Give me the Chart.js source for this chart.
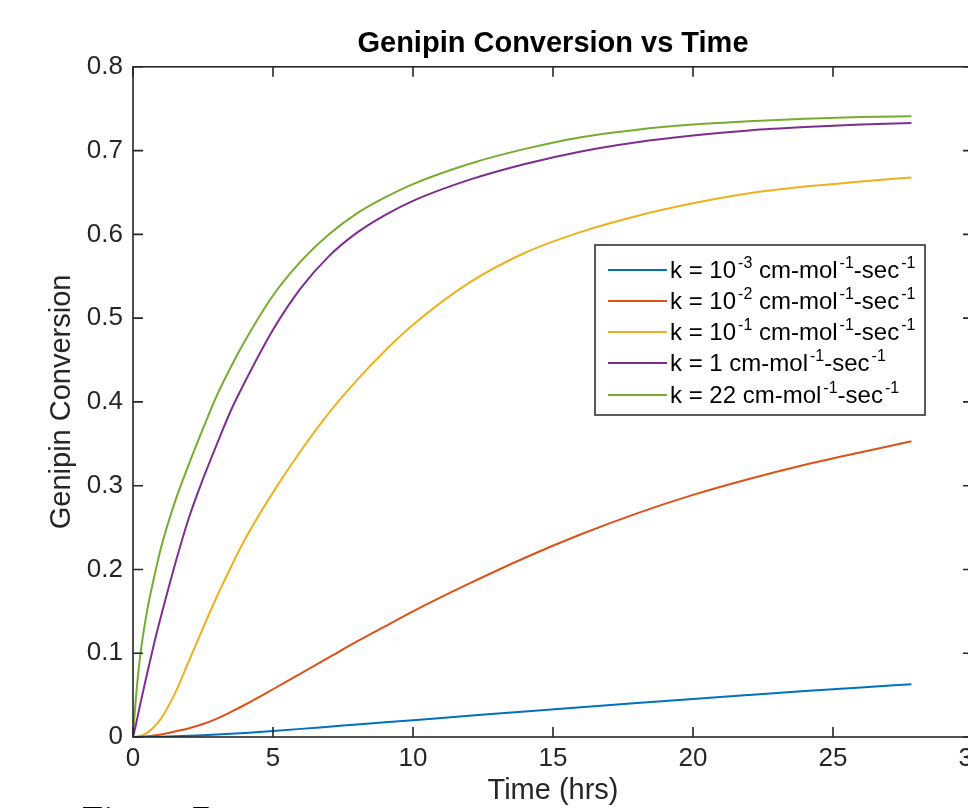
<!DOCTYPE html>
<html><head><meta charset="utf-8">
<script src="https://cdn.jsdelivr.net/npm/chart.js@4"></script>
<style>
html,body{margin:0;padding:0;background:#fff;overflow:hidden;}
#wrap{width:968px;height:808px;overflow:hidden;position:relative;background:#fff;}
canvas{display:block;}
</style></head><body>
<div id="wrap"><canvas id="c" width="1000" height="808" style="width:1000px;height:808px"></canvas></div>
<script>
// ---- data ----
const timeHrs  = [0,0.1,0.25,0.5,0.75,1,1.5,2,2.5,3,3.5,4,5,6,7,8,9,10,12,14,16,18,20,22,24,26,27.8];
const convK1e3 = [0,0,0.00002,0.0001,0.0002,0.0004,0.0009,0.0015,0.0022,0.003,0.0039,0.0049,0.0072,0.0097,0.0123,0.0149,0.0175,0.0201,0.0253,0.0305,0.0356,0.0406,0.0455,0.0502,0.0548,0.0592,0.0630];
const convK1e2 = [0,0,0.0002,0.0008,0.0017,0.003,0.0065,0.0105,0.0155,0.022,0.030,0.0385,0.057,0.076,0.095,0.114,0.132,0.150,0.183,0.214,0.242,0.267,0.289,0.308,0.325,0.340,0.353];
const convK1e1 = [0,0.0002,0.0012,0.005,0.012,0.022,0.052,0.091,0.130,0.168,0.203,0.236,0.292,0.342,0.387,0.426,0.461,0.492,0.542,0.578,0.603,0.622,0.637,0.649,0.657,0.663,0.668];
const convK1   = [0,0.014,0.038,0.075,0.111,0.144,0.206,0.262,0.308,0.350,0.390,0.424,0.486,0.536,0.574,0.602,0.623,0.640,0.665,0.684,0.699,0.710,0.718,0.724,0.728,0.731,0.733];
const convK22  = [0,0.045,0.095,0.150,0.190,0.226,0.281,0.326,0.368,0.408,0.442,0.473,0.527,0.568,0.600,0.625,0.644,0.660,0.684,0.702,0.716,0.725,0.731,0.735,0.738,0.740,0.741];
const seriesLabels = [
  'k = 10^{-3} cm-mol^{-1}-sec^{-1}',
  'k = 10^{-2} cm-mol^{-1}-sec^{-1}',
  'k = 10^{-1} cm-mol^{-1}-sec^{-1}',
  'k = 1 cm-mol^{-1}-sec^{-1}',
  'k = 22 cm-mol^{-1}-sec^{-1}'
];
const seriesColors = ['#0072BD','#D95319','#EDB120','#7E2F8E','#77AC30'];
const xTicks = [0,5,10,15,20,25,30];
const yTicks = [0,0.1,0.2,0.3,0.4,0.5,0.6,0.7,0.8];
const chartTitle = 'Genipin Conversion vs Time';
const xTitle = 'Time (hrs)';
const yTitle = 'Genipin Conversion';
const captionText = 'Figure 7';

const FONT = '"Liberation Sans", Arial, Helvetica, sans-serif';
const AXIS = '#262626';
const allSeries = [convK1e3, convK1e2, convK1e1, convK1, convK22];

const datasets = allSeries.map((vals, i) => ({
  label: seriesLabels[i].replace(/\^\{([^}]*)\}/g, '$1'),
  data: timeHrs.map((t, j) => ({x: t, y: vals[j]})),
  borderColor: seriesColors[i],
  backgroundColor: seriesColors[i],
  borderWidth: 2,
  pointRadius: 0,
  fill: false,
  cubicInterpolationMode: 'monotone'
}));

const boxPlugin = {
  id: 'matlabBox',
  afterDatasetsDraw(chart) {
    const {ctx, chartArea: a, scales: {x, y}} = chart;
    ctx.save();
    ctx.strokeStyle = AXIS;
    ctx.lineWidth = 1.6;
    ctx.strokeRect(a.left, a.top, a.right - a.left, a.bottom - a.top);
    const L = 10;
    ctx.beginPath();
    xTicks.forEach(v => {
      const px = x.getPixelForValue(v);
      ctx.moveTo(px, a.bottom); ctx.lineTo(px, a.bottom - L);
      ctx.moveTo(px, a.top); ctx.lineTo(px, a.top + L);
    });
    yTicks.forEach(v => {
      const py = y.getPixelForValue(v);
      ctx.moveTo(a.left, py); ctx.lineTo(a.left + L, py);
      ctx.moveTo(a.right, py); ctx.lineTo(a.right - L, py);
    });
    ctx.stroke();

    // legend
    const bx = 595, by = 245, bw = 330, bh = 170;
    ctx.fillStyle = '#fff';
    ctx.fillRect(bx, by, bw, bh);
    ctx.lineWidth = 1.5;
    ctx.strokeStyle = AXIS;
    ctx.strokeRect(bx, by, bw, bh);
    const rowY = [270, 301, 332, 363, 395];
    seriesLabels.forEach((lab, i) => {
      const cy = rowY[i];
      ctx.strokeStyle = seriesColors[i];
      ctx.lineWidth = 2;
      ctx.beginPath(); ctx.moveTo(608, cy); ctx.lineTo(667, cy); ctx.stroke();
      const parts = lab.split(/\^\{([^}]*)\}/);
      let tx = 670;
      const base = cy + 8;
      ctx.fillStyle = '#000';
      ctx.textBaseline = 'alphabetic';
      ctx.textAlign = 'left';
      parts.forEach((p, k) => {
        if (k % 2 === 0) {
          ctx.font = '24px ' + FONT;
          ctx.fillText(p, tx, base);
        } else {
          tx += 2;
          ctx.font = '16px ' + FONT;
          ctx.fillText(p, tx, base - 10);
        }
        tx += ctx.measureText(p).width;
      });
    });

    // figure caption (cut off by the page bottom)
    ctx.fillStyle = '#000';
    ctx.font = '38px "Liberation Serif", "Times New Roman", serif';
    ctx.textBaseline = 'alphabetic';
    ctx.fillText(captionText, 82, 832);
    ctx.restore();
  }
};

new Chart(document.getElementById('c'), {
  type: 'line',
  data: {datasets},
  plugins: [boxPlugin],
  options: {
    responsive: false,
    animation: false,
    devicePixelRatio: 1,
    layout: {padding: {left: 0, right: 27, top: 0, bottom: 0}},
    plugins: {
      legend: {display: false},
      tooltip: {enabled: false},
      title: {
        display: true, text: chartTitle, fullSize: false,
        color: '#000',
        font: {family: FONT, size: 29, weight: 'bold', lineHeight: 1.2},
        padding: {top: 27, bottom: 5}
      }
    },
    scales: {
      x: {
        type: 'linear', min: 0, max: 30,
        afterFit(s) { s.height = 71; },
        afterBuildTicks(s) { s.ticks = xTicks.map(v => ({value: v})); },
        ticks: {color: AXIS, font: {family: FONT, size: 26}, padding: 6, maxRotation: 0, autoSkip: false},
        grid: {display: false, drawTicks: false},
        border: {display: false},
        title: {display: true, text: xTitle, color: AXIS, font: {family: FONT, size: 29, lineHeight: 1.2}, padding: {top: 0, bottom: 0}}
      },
      y: {
        type: 'linear', min: 0, max: 0.8,
        afterFit(s) { s.width = 133; },
        afterBuildTicks(s) { s.ticks = yTicks.map(v => ({value: v})); },
        ticks: {color: AXIS, font: {family: FONT, size: 26}, padding: 10, autoSkip: false,
                callback: v => (v === 0 ? '0' : v.toFixed(1))},
        grid: {display: false, drawTicks: false},
        border: {display: false},
        title: {display: true, text: yTitle, color: AXIS, font: {family: FONT, size: 29, lineHeight: 1.2}, padding: {top: 45, bottom: 0}}
      }
    }
  }
});
</script>
</body></html>
